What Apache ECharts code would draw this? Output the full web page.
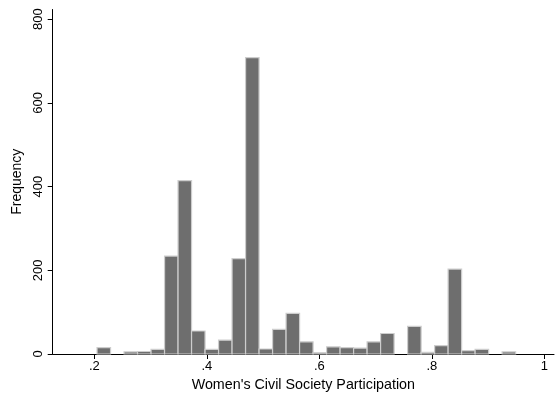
<!DOCTYPE html>
<html>
<head>
<meta charset="utf-8">
<script src="https://cdn.jsdelivr.net/npm/echarts@6/dist/echarts.min.js"></script>
<style>
html,body{margin:0;padding:0;background:#fff;}
#chart{width:556px;height:398px;}
</style>
</head>
<body>
<div id="chart"></div>
<script>
// Histogram bins: left edge of first bin and common bin width
const binStart = 0.2048;
const binWidth = 0.024;
// Frequencies per bin
const counts = [15, 0, 5, 6, 11, 234, 414, 55, 11, 33, 228, 708, 12, 59, 97, 29, 3, 17, 15, 14, 29, 49, 0, 66, 4, 20, 203, 8, 11, 0, 5];
// Tick labels
const xTicks = [0.2, 0.4, 0.6, 0.8, 1];
const yTicks = [0, 200, 400, 600, 800];
const xTitle = "Women's Civil Society Participation";
const yTitle = "Frequency";

const data = counts.map((c, i) => [binStart + i * binWidth, binStart + (i + 1) * binWidth, c]);

const font = "'Liberation Sans', Arial, Helvetica, sans-serif";
const chart = echarts.init(document.getElementById('chart'), null, {renderer: 'canvas'});
chart.setOption({
  animation: false,
  backgroundColor: '#ffffff',
  grid: {left: 52.7, right: 2, top: 9.5, bottom: 44, containLabel: false},
  xAxis: {
    type: 'value', min: 0.126, max: 1.017,
    splitLine: {show: false},
    axisLine: {show: true, lineStyle: {color: '#000', width: 1}},
    axisTick: {show: true, length: 5, lineStyle: {color: '#000'}, customValues: xTicks},
    axisLabel: {
      customValues: xTicks, margin: 6,
      fontFamily: font, fontSize: 13, color: '#000',
      formatter: v => String(v).replace(/^0\./, '.')
    },
    name: xTitle, nameLocation: 'middle', nameGap: 19,
    nameTextStyle: {fontFamily: font, fontSize: 14.3, color: '#000'}
  },
  yAxis: {
    type: 'value', min: 0, max: 823,
    splitLine: {show: false},
    axisLine: {show: true, lineStyle: {color: '#000', width: 1}},
    axisTick: {show: true, length: 5, lineStyle: {color: '#000'}, customValues: yTicks},
    axisLabel: {
      customValues: yTicks, rotate: 90, margin: 8,
      fontFamily: font, fontSize: 13, color: '#000'
    },
    name: yTitle, nameLocation: 'middle', nameGap: 22, nameRotate: 90,
    nameTextStyle: {fontFamily: font, fontSize: 14, color: '#000'}
  },
  series: [{
    type: 'custom',
    data: data,
    encode: {x: [0, 1], y: 2},
    renderItem: function (params, api) {
      const p0 = api.coord([api.value(0), api.value(2)]);
      const p1 = api.coord([api.value(1), 0]);
      if (api.value(2) <= 0) return null;
      return {
        type: 'rect',
        shape: {x: p0[0], y: p0[1], width: p1[0] - p0[0], height: p1[1] - p0[1]},
        style: {fill: '#6e6e6e', stroke: '#cdcdcd', lineWidth: 1.2}
      };
    }
  }]
});
</script>
</body>
</html>
